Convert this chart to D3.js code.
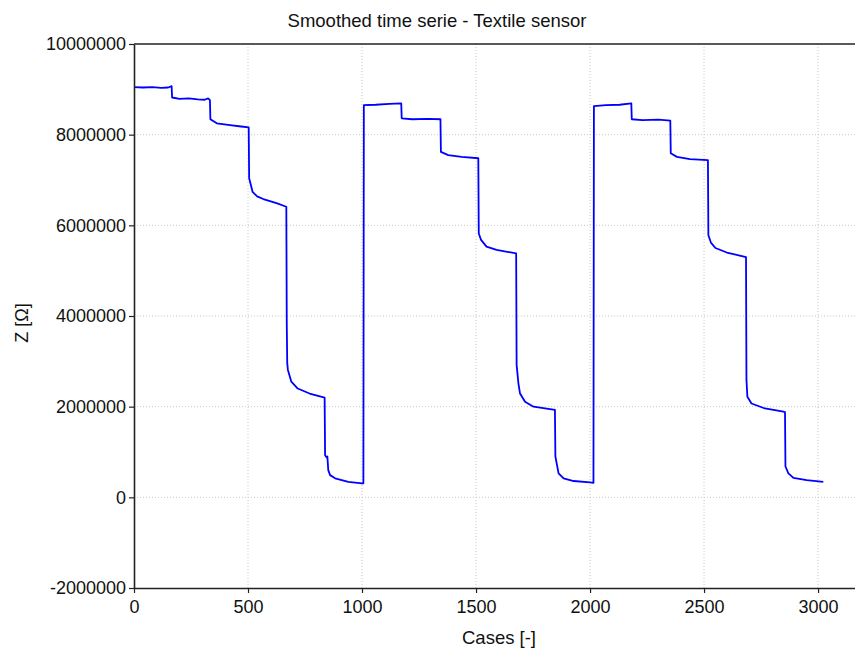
<!DOCTYPE html>
<html>
<head>
<meta charset="utf-8">
<script src="https://cdn.jsdelivr.net/npm/d3@7"></script>
<style>
  body { margin: 0; background: #fff; }
  text { font-family: "Liberation Sans", Arial, sans-serif; fill: #111; }
</style>
</head>
<body>
<svg></svg>
<script>
// points (case index, impedance in ohm)
const cases = [
  0, 40, 80, 120, 150, 165, 167, 200, 240, 280, 310, 325, 333,
  335, 363, 421, 470, 503,
  505, 520, 540, 567, 625, 668,
  670, 672, 675, 690, 718, 770, 836,
  838, 845, 848, 852, 860, 882, 940, 1000, 1006,
  1008, 1060, 1120, 1172,
  1174, 1220, 1290, 1344,
  1346, 1378, 1437, 1510,
  1512, 1522, 1546, 1590, 1676,
  1678, 1686, 1693, 1715, 1752, 1846,
  1848, 1862, 1884, 1928, 2000, 2015,
  2017, 2070, 2130, 2181,
  2183, 2230, 2300, 2352,
  2354, 2381, 2438, 2517,
  2519, 2530, 2550, 2600, 2684,
  2686, 2690, 2708, 2767, 2848, 2855,
  2857, 2870, 2892, 2950, 3023
];
const impedance = [
  9050000, 9040000, 9050000, 9030000, 9040000, 9070000, 8820000, 8790000, 8800000, 8780000, 8770000, 8800000, 8760000,
  8340000, 8250000, 8210000, 8180000, 8160000,
  7040000, 6740000, 6640000, 6580000, 6490000, 6410000,
  3800000, 2960000, 2810000, 2550000, 2400000, 2290000, 2200000,
  930000, 880000, 900000, 600000, 490000, 420000, 340000, 310000, 310000,
  8650000, 8660000, 8680000, 8690000,
  8360000, 8340000, 8350000, 8340000,
  7620000, 7550000, 7510000, 7480000,
  5820000, 5680000, 5530000, 5460000, 5380000,
  2920000, 2510000, 2290000, 2110000, 2000000, 1930000,
  900000, 530000, 420000, 360000, 330000, 320000,
  8630000, 8650000, 8660000, 8690000,
  8340000, 8320000, 8330000, 8310000,
  7590000, 7510000, 7460000, 7440000,
  5780000, 5620000, 5500000, 5400000, 5300000,
  2590000, 2220000, 2070000, 1960000, 1890000, 1880000,
  680000, 530000, 430000, 380000, 340000
];

const xTicks = [0, 500, 1000, 1500, 2000, 2500, 3000];
const yTicks = [-2000000, 0, 2000000, 4000000, 6000000, 8000000, 10000000];

const width = 855;
const height = 648;
const svg = d3.select("svg")
    .attr("width", width)
    .attr("height", height);

const plotLeft = 134, plotTop = 44, plotBottom = 588, plotRight = 855;

const x = d3.scaleLinear().domain([0, 3162]).range([plotLeft, plotRight]);
const y = d3.scaleLinear().domain([-2000000, 10000000]).range([plotBottom, plotTop]);

// grid
svg.append("g")
    .selectAll("line")
    .data(xTicks.slice(1))
    .enter().append("line")
    .attr("x1", d => x(d)).attr("x2", d => x(d))
    .attr("y1", plotTop).attr("y2", plotBottom)
    .attr("stroke", "#c8c8c8")
    .attr("stroke-dasharray", "1,2");

svg.append("g")
    .selectAll("line")
    .data(yTicks.slice(1, -1))
    .enter().append("line")
    .attr("x1", plotLeft).attr("x2", plotRight)
    .attr("y1", d => y(d)).attr("y2", d => y(d))
    .attr("stroke", "#c8c8c8")
    .attr("stroke-dasharray", "1,2");

// series
const points = cases.map((c, i) => [c, impedance[i]]);
svg.append("path")
    .datum(points)
    .attr("fill", "none")
    .attr("stroke", "#0000ff")
    .attr("stroke-width", 1.8)
    .attr("stroke-linejoin", "round")
    .attr("d", d3.line().x(d => x(d[0])).y(d => y(d[1])));

// axes
const xAxis = svg.append("g")
    .attr("transform", `translate(0,${plotBottom})`)
    .call(d3.axisBottom(x).tickValues(xTicks).tickSize(5).tickSizeOuter(0).tickFormat(d => String(d)));
const yAxis = svg.append("g")
    .attr("transform", `translate(${plotLeft},0)`)
    .call(d3.axisLeft(y).tickValues(yTicks).tickSize(5).tickSizeOuter(0).tickFormat(d => String(d)));

[xAxis, yAxis].forEach(g => {
    g.select(".domain").attr("stroke", "#222").attr("stroke-width", 1.6);
    g.selectAll(".tick line").attr("stroke", "#222").attr("stroke-width", 1.2);
    g.selectAll(".tick text")
        .style("font-family", "'Liberation Sans', Arial, sans-serif")
        .style("font-size", "18px")
        .attr("fill", "#111");
});
xAxis.selectAll(".tick text").attr("y", 9).attr("dy", "0.9em");
yAxis.selectAll(".tick text").attr("x", -8);

// top frame line
svg.append("line")
    .attr("x1", plotLeft).attr("x2", plotRight)
    .attr("y1", plotTop).attr("y2", plotTop)
    .attr("stroke", "#222").attr("stroke-width", 1.6);

// titles
svg.append("text")
    .attr("x", 437).attr("y", 27)
    .attr("text-anchor", "middle")
    .style("font-size", "18.5px")
    .text("Smoothed time serie - Textile sensor");

svg.append("text")
    .attr("x", 499).attr("y", 644)
    .attr("text-anchor", "middle")
    .style("font-size", "18.5px")
    .text("Cases [-]");

svg.append("text")
    .attr("transform", "translate(28,323) rotate(-90)")
    .attr("text-anchor", "middle")
    .style("font-size", "18px")
    .text("Z [Ω]");
</script>
</body>
</html>
